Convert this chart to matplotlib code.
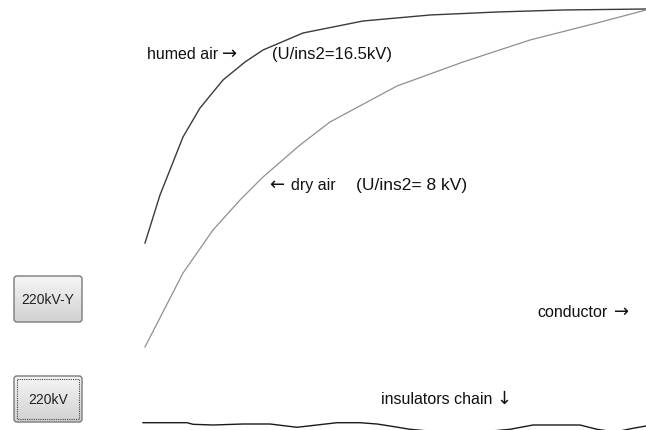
import numpy as np
import matplotlib
matplotlib.use("Agg")
import matplotlib.pyplot as plt
from matplotlib.patches import FancyBboxPatch, Rectangle

plt.rcParams['font.family'] = ['Liberation Sans', 'DejaVu Sans']

# field lines (screen-like coords, y grows downward)
humid_x = [145, 160, 183, 200, 223, 245, 263, 303, 363, 430, 497, 563, 646]
humid_y = [243, 195, 137, 108, 80, 62, 50, 33, 21, 15, 12, 10, 9]

dry_x = [145, 165, 183, 213, 240, 263, 300, 330, 397, 463, 530, 597, 646]
dry_y = [347, 308, 273, 230, 200, 177, 145, 122, 86, 62, 40, 23, 10]

chain_x = [143, 187, 193, 213, 243, 270, 297, 317, 337, 360, 377, 390, 410,
           460, 510, 533, 580, 597, 615, 633, 646]
chain_y = [422.7, 422.7, 424.3, 425, 424, 424, 427.3, 425, 422.7, 422.7, 424,
           426, 429.3, 434, 429.3, 425, 425, 429.3, 432, 428.3, 426]

labels = ["humed air", "(U/ins2=16.5kV)", "dry air", "(U/ins2= 8 kV)",
          "conductor", "insulators chain"]
label_xy = [(147, 59), (272, 59), (291, 190), (356, 190), (537, 317), (381, 404)]
label_size = [11.5, 12, 11.5, 12.5, 11.5, 11.5]

arrows = ["\u2192", "\u2190", "\u2192", "\u2193"]
arrow_xy = [(230, 59), (277, 190), (622, 317), (504, 404)]

buttons = ["220kV-Y", "220kV"]
button_top = [275, 375]

fig = plt.figure(figsize=(6.46, 4.30), dpi=100)
ax = fig.add_axes([0, 0, 1, 1])
ax.set_xlim(0, 646)
ax.set_ylim(430, 0)
ax.axis("off")

ax.plot(humid_x, humid_y, color="#3a3a3a", lw=1.0)
ax.plot(dry_x, dry_y, color="#8f8f8f", lw=0.9)
ax.plot(chain_x, chain_y, color="#1a1a1a", lw=1.0)

for t, (x, y), s in zip(labels, label_xy, label_size):
    ax.text(x, y, t, fontsize=s, ha="left", va="baseline", color="#111111")
for a, (x, y) in zip(arrows, arrow_xy):
    ax.text(x, y, a, fontsize=13, family="DejaVu Sans", ha="center", va="baseline",
            color="#111111")

grad = np.linspace(0.96, 0.82, 50).reshape(-1, 1)
for i, (name, top) in enumerate(zip(buttons, button_top)):
    box = FancyBboxPatch((14, top + 1), 68, 46, boxstyle="round,pad=0,rounding_size=3",
                         facecolor="none", edgecolor="#7a7a7a", lw=1.0, zorder=3)
    ax.add_patch(box)
    im = ax.imshow(grad, cmap="gray", vmin=0, vmax=1, extent=(14, 82, top + 47, top + 1),
                   aspect="auto", zorder=2)
    im.set_clip_path(box)
    if i == 1:
        ax.add_patch(Rectangle((17, top + 4), 62, 40, fill=False, edgecolor="#444444",
                               lw=0.8, ls=(0, (1, 1)), zorder=4))
    ax.text(48, top + 25, name, fontsize=10, ha="center", va="center", color="#222222", zorder=5)

ax.set_xlim(0, 646)
ax.set_ylim(430, 0)
fig.savefig("out.png", dpi=100)
